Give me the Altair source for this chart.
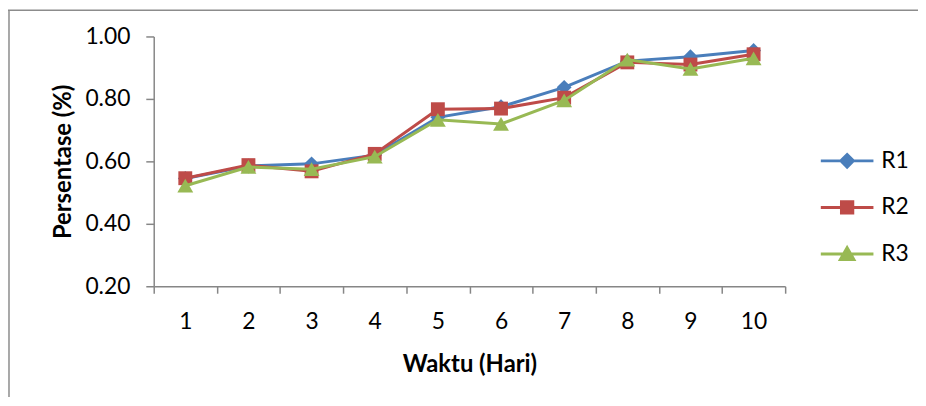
import altair as alt
import pandas as pd

days = [1, 2, 3, 4, 5, 6, 7, 8, 9, 10]
r1 = [0.545, 0.585, 0.592, 0.620, 0.741, 0.775, 0.837, 0.921, 0.935, 0.955]
r2 = [0.546, 0.588, 0.568, 0.624, 0.767, 0.769, 0.804, 0.917, 0.910, 0.943]
r3 = [0.522, 0.582, 0.575, 0.615, 0.733, 0.720, 0.795, 0.926, 0.896, 0.930]
series_names = ["R1", "R2", "R3"]
series_colors = ["#4A7EBB", "#BE4B48", "#98B954"]
marker_shapes = ["diamond", "square", "triangle-up"]
marker_sizes = [225, 196, 256]
legend_paths = [
    "M-1.77,0H1.77M0,-0.42L0.42,0L0,0.42L-0.42,0Z",
    "M-1.77,0H1.77M-0.38,-0.38H0.38V0.38H-0.38Z",
    "M-1.77,0H1.77M0,-0.42L0.45,0.36H-0.45Z",
]

rows = []
for name, vals in zip(series_names, [r1, r2, r3]):
    for d, v in zip(days, vals):
        rows.append({"Hari": d, "Nilai": v, "Seri": name})
df = pd.DataFrame(rows)

FONT = "Lato"
AX = "#868686"

x_enc = alt.X(
    "Hari:O",
    bandPosition=0.5,
    scale=alt.Scale(type="band", paddingInner=0, paddingOuter=0),
    axis=alt.Axis(
        title="Waktu (Hari)", labelAngle=0, tickBand="extent",
        tickSize=7, labelPadding=18, titlePadding=19,
    ),
)
y_enc = alt.Y(
    "Nilai:Q",
    scale=alt.Scale(domain=[0.2, 1.0], nice=False, zero=False),
    axis=alt.Axis(
        title="Persentase (%)", values=[0.2, 0.4, 0.6, 0.8, 1.0], format=".2f",
        tickSize=8, labelPadding=16, titlePadding=10,
    ),
)

base = alt.Chart(df)
layers = []
for name, col, shp, sz in zip(series_names, series_colors, marker_shapes, marker_sizes):
    sub = base.transform_filter(alt.datum.Seri == name)
    layers.append(sub.mark_line(color=col, strokeWidth=3).encode(x=x_enc, y=y_enc))
    layers.append(
        sub.mark_point(shape=shp, size=sz, filled=True, color=col, opacity=1, strokeWidth=0)
        .encode(x=x_enc, y=y_enc)
    )


def leg():
    return alt.Legend(
        title=None, orient="none", legendX=683, legendY=109, padding=0,
        symbolSize=900, rowPadding=18, labelOffset=18, symbolStrokeWidth=3,
        labelFontSize=23, labelFont=FONT, labelColor="black", symbolOpacity=1,
    )


leg_scale_c = alt.Scale(domain=series_names, range=series_colors)
legend_layer = base.transform_filter("false").mark_point(opacity=1, strokeWidth=3).encode(
    fill=alt.Fill("Seri:N", scale=leg_scale_c, legend=leg()),
    stroke=alt.Stroke("Seri:N", scale=leg_scale_c, legend=leg()),
    shape=alt.Shape("Seri:N", scale=alt.Scale(domain=series_names, range=legend_paths), legend=leg()),
)

frame_df = pd.DataFrame({"k": [0]})
frame_top = alt.Chart(frame_df).mark_rule(color="#8C8C8C", strokeWidth=1.5).encode(
    x=alt.value(-147), x2=alt.value(790), y=alt.value(-26.5)
)
frame_left = alt.Chart(frame_df).mark_rule(color="#8C8C8C", strokeWidth=1.5).encode(
    x=alt.value(-146), y=alt.value(-26.5), y2=alt.value(400)
)

chart = alt.layer(frame_top, frame_left, *layers, legend_layer).properties(
    width=637, height=252,
    autosize=alt.AutoSizeParams(type="none"),
    padding={"left": 147, "top": 27, "right": 134, "bottom": 110},
).configure_view(stroke=None).configure_axis(
    grid=False, domainColor=AX, tickColor=AX, domainWidth=1.5, tickWidth=1.5,
    labelFont=FONT, labelFontSize=23, labelColor="black",
    titleFont=FONT, titleFontSize=24, titleFontWeight="bold", titleColor="black",
).resolve_scale(color="independent")

chart.save("out.html", embed_options={"renderer": "svg", "actions": False})
